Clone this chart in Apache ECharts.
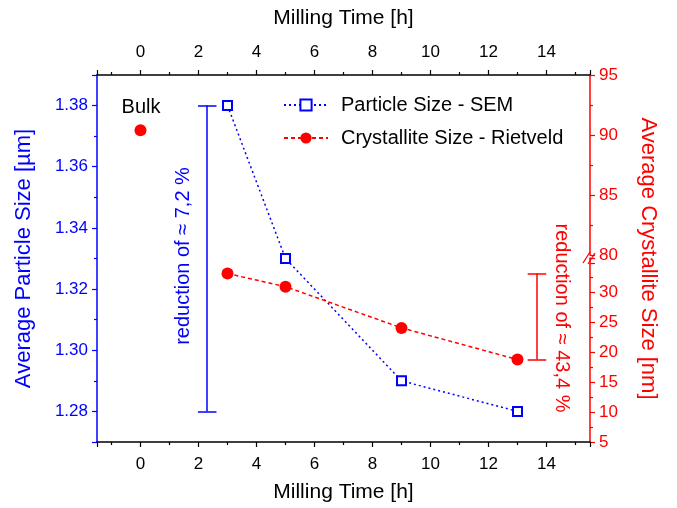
<!DOCTYPE html>
<html>
<head>
<meta charset="utf-8">
<script src="https://cdn.jsdelivr.net/npm/echarts@6/dist/echarts.min.js"></script>
<style>
  html, body { margin: 0; padding: 0; background: #fff; }
  #chart { width: 677px; height: 508px; }
</style>
</head>
<body>
<div id="chart"></div>
<script>
// milled samples
const millingTime = [3, 5, 9, 13]
const particleSize = [1.38, 1.33, 1.29, 1.28]
const crystalliteSize = [33.2, 31.0, 24.1, 18.8]
// unmilled reference
const bulkTime = [0]
const bulkCrystallite = [90.4]
// reduction brackets: [x, from, to]
const particleBracket = [2.3, 1.38, 1.28]
const crystalBracket = [13.67, 33.2, 18.8]
const bracketCap = 0.32

const BLUE = '#0000ff'
const RED = '#ff0000'
const FONT = '"Liberation Sans", Arial, sans-serif'

const chart = echarts.init(document.getElementById('chart'))

function bracket (x, from, to) {
  return [
    [{ coord: [x - bracketCap, from] }, { coord: [x + bracketCap, from] }],
    [{ coord: [x, from] }, { coord: [x, to] }],
    [{ coord: [x - bracketCap, to] }, { coord: [x + bracketCap, to] }]
  ]
}

function xAxisBase (gridIndex, position, show) {
  return {
    type: 'value',
    gridIndex: gridIndex,
    position: position,
    show: show,
    min: -1.5,
    max: 15.5,
    splitNumber: 8,
    axisLine: { show: true, onZero: false, lineStyle: { color: '#000', width: 1.5 } },
    axisTick: { show: true, inside: false, length: 5, lineStyle: { color: '#000', width: 1.2 } },
    minorTick: { show: true, splitNumber: 2, length: 3, lineStyle: { color: '#000', width: 1.2 } },
    splitLine: { show: false },
    axisLabel: {
      color: '#000', fontSize: 17, fontFamily: FONT, margin: 14,
      showMinLabel: false, showMaxLabel: false
    },
    name: 'Milling Time [h]',
    nameLocation: 'middle',
    nameGap: position === 'top' ? 46 : 40,
    nameTextStyle: { color: '#000', fontSize: 21, fontFamily: FONT }
  }
}

const option = {
  animation: false,
  backgroundColor: '#fff',
  grid: [
    { left: 97, right: 87, top: 75, bottom: 66 },
    { left: 97, right: 87, top: 75, height: 180 },
    { left: 97, right: 87, top: 258, bottom: 66 }
  ],
  legend: {
    orient: 'vertical',
    left: 278,
    top: 90,
    itemWidth: 44,
    itemHeight: 14,
    itemGap: 13,
    data: ['Particle Size - SEM', 'Crystallite Size - Rietveld'],
    textStyle: { color: '#000', fontSize: 20, fontFamily: FONT, lineHeight: 20, padding: [0, 0, 0, 8] }
  },
  xAxis: [
    xAxisBase(0, 'bottom', true),
    xAxisBase(0, 'top', true),
    xAxisBase(1, 'bottom', false),
    xAxisBase(2, 'bottom', false)
  ],
  yAxis: [
    {
      type: 'value',
      gridIndex: 0,
      position: 'left',
      min: 1.27,
      max: 1.39,
      splitNumber: 6,
      axisLine: { show: true, onZero: false, lineStyle: { color: BLUE, width: 1.5 } },
      axisTick: { show: true, length: 5, lineStyle: { color: BLUE, width: 1.2 } },
      minorTick: { show: true, splitNumber: 2, length: 3, lineStyle: { color: BLUE, width: 1.2 } },
      splitLine: { show: false },
      axisLabel: {
        color: BLUE, fontSize: 17, fontFamily: FONT, margin: 9,
        showMinLabel: false, showMaxLabel: false,
        formatter: v => v.toFixed(2)
      },
      name: 'Average Particle Size [µm]',
      nameLocation: 'middle',
      nameGap: 62,
      nameTextStyle: { color: BLUE, fontSize: 22, fontFamily: FONT }
    },
    {
      // name holder for the broken right axis
      type: 'value',
      gridIndex: 0,
      position: 'right',
      min: 0,
      max: 1,
      axisLine: { show: false },
      axisTick: { show: false },
      axisLabel: { show: false },
      splitLine: { show: false },
      name: 'Average Crystallite Size [nm]',
      nameLocation: 'middle',
      nameRotate: -90,
      nameGap: 47,
      nameTextStyle: { color: RED, fontSize: 22, fontFamily: FONT }
    },
    {
      type: 'value',
      gridIndex: 1,
      position: 'right',
      min: 80,
      max: 95,
      interval: 5,
      axisLine: { show: true, onZero: false, lineStyle: { color: RED, width: 1.5 } },
      axisTick: { show: true, length: 5, lineStyle: { color: RED, width: 1.2 } },
      minorTick: { show: true, splitNumber: 2, length: 3, lineStyle: { color: RED, width: 1.2 } },
      splitLine: { show: false },
      axisLabel: { color: RED, fontSize: 17, fontFamily: FONT, margin: 9 }
    },
    {
      type: 'value',
      gridIndex: 2,
      position: 'right',
      min: 5,
      max: 35.8,
      interval: 5,
      axisLine: { show: true, onZero: false, lineStyle: { color: RED, width: 1.5 } },
      axisTick: { show: true, length: 5, lineStyle: { color: RED, width: 1.2 } },
      minorTick: { show: true, splitNumber: 2, length: 3, lineStyle: { color: RED, width: 1.2 } },
      splitLine: { show: false },
      axisLabel: {
        color: RED, fontSize: 17, fontFamily: FONT, margin: 9,
        showMaxLabel: false,
        formatter: v => (v > 32 ? '' : String(v))
      }
    }
  ],
  series: [
    {
      name: 'Particle Size - SEM',
      type: 'line',
      xAxisIndex: 0,
      yAxisIndex: 0,
      data: millingTime.map((t, i) => [t, particleSize[i]]),
      symbol: 'rect',
      symbolSize: 9,
      itemStyle: { color: '#fff', borderColor: BLUE, borderWidth: 2 },
      lineStyle: { color: BLUE, width: 1.5, type: [2, 3] },
      z: 3,
      markLine: {
        silent: true,
        symbol: 'none',
        label: { show: false },
        lineStyle: { color: BLUE, width: 1.5, type: 'solid' },
        data: bracket(particleBracket[0], particleBracket[1], particleBracket[2])
      }
    },
    {
      name: 'Crystallite Size - Rietveld',
      type: 'line',
      xAxisIndex: 3,
      yAxisIndex: 3,
      data: millingTime.map((t, i) => [t, crystalliteSize[i]]),
      symbol: 'circle',
      symbolSize: 12,
      itemStyle: { color: RED },
      lineStyle: { color: RED, width: 1.5, type: [4, 3] },
      markLine: {
        silent: true,
        symbol: 'none',
        label: { show: false },
        lineStyle: { color: RED, width: 1.5, type: 'solid' },
        data: bracket(crystalBracket[0], crystalBracket[1], crystalBracket[2])
      }
    },
    {
      name: 'Bulk',
      type: 'scatter',
      xAxisIndex: 2,
      yAxisIndex: 2,
      data: bulkTime.map((t, i) => [t, bulkCrystallite[i]]),
      symbol: 'circle',
      symbolSize: 12,
      itemStyle: { color: RED, opacity: 1 }
    }
  ],
  graphic: [
    {
      type: 'text', x: 141, y: 107,
      style: { text: 'Bulk', fill: '#000', fontSize: 20, fontFamily: FONT, align: 'center', verticalAlign: 'middle' }
    },
    {
      type: 'text', x: 183, y: 256, rotation: Math.PI / 2,
      style: { text: 'reduction of ≈ 7,2 %', fill: BLUE, fontSize: 20, fontFamily: FONT, align: 'center', verticalAlign: 'middle' }
    },
    {
      type: 'text', x: 562, y: 318, rotation: -Math.PI / 2,
      style: { text: 'reduction of ≈ 43,4 %', fill: RED, fontSize: 20, fontFamily: FONT, align: 'center', verticalAlign: 'middle' }
    },
    {
      type: 'group',
      children: [
        { type: 'line', shape: { x1: 583, y1: 263, x2: 590, y2: 252 }, style: { stroke: RED, lineWidth: 1.3 } },
        { type: 'line', shape: { x1: 588, y1: 264, x2: 595, y2: 253 }, style: { stroke: RED, lineWidth: 1.3 } }
      ]
    }
  ]
}

chart.setOption(option)
</script>
</body>
</html>
